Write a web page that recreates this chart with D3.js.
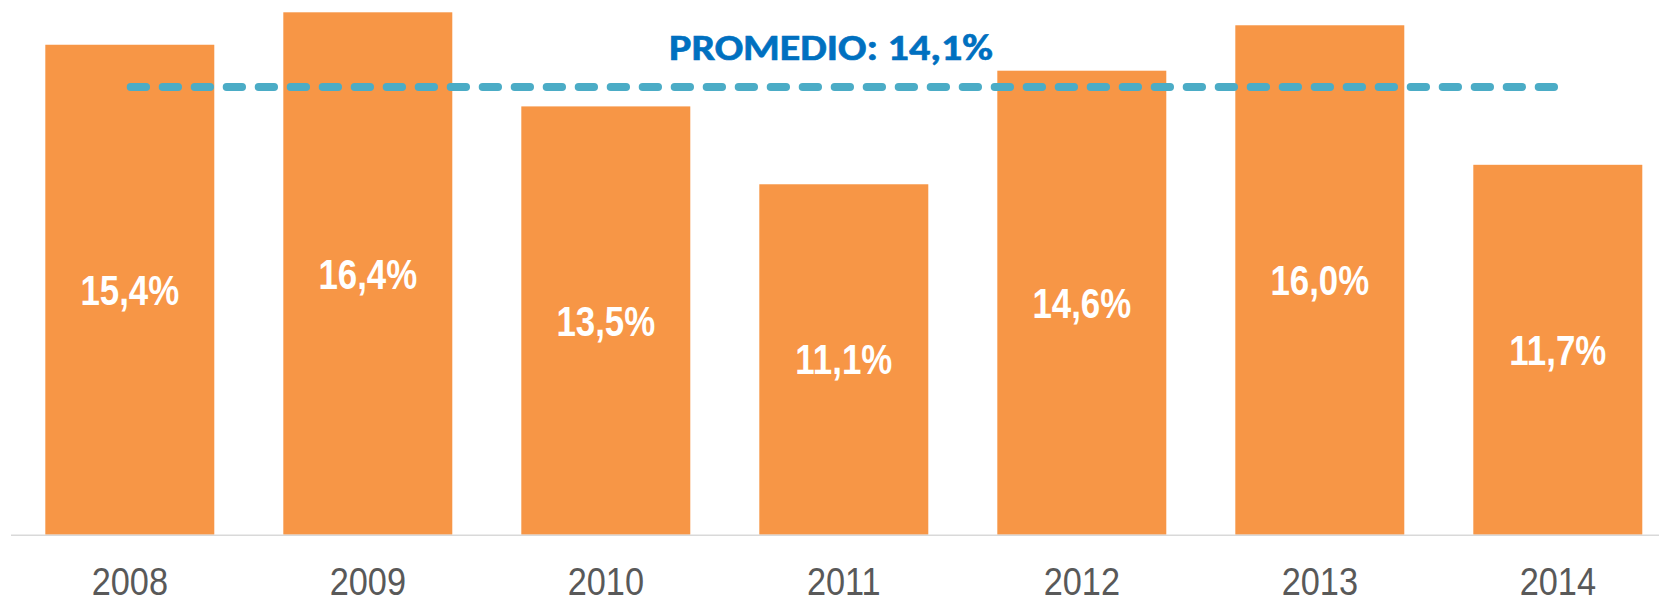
<!DOCTYPE html>
<html>
<head>
<meta charset="utf-8">
<script src="https://cdn.jsdelivr.net/npm/d3@7"></script>
<style>
    html, body { margin: 0; padding: 0; background: #fff; }
    svg { display: block; }
</style>
</head>
<body>
<svg id="chart" width="1659" height="603"></svg>
<script>
// Data
const years = ['2008', '2009', '2010', '2011', '2012', '2013', '2014'];
const values = [15.4, 16.4, 13.5, 11.1, 14.6, 16.0, 11.7];
const average = 14.1;

const W = 1659, H = 603;
const baseY = 534.7;
// no narrow font installed: squeeze Liberation Sans horizontally instead
const sans = '"Liberation Sans", Arial, sans-serif';

const svg = d3.select('#chart');

const x = d3.scaleBand()
    .domain(years)
    .range([10.8, 1676.8])
    .paddingInner(0.29)
    .paddingOuter(0.145);

// axis floor is slightly above zero in the original
const y = d3.scaleLinear()
    .domain([0.3, 16.4])
    .range([baseY, 12.3]);

const fmt = v => d3.format('.1f')(v).replace('.', ',') + '%';
const mid = yr => x(yr) + x.bandwidth() / 2;

// Bars
svg.append('g')
    .selectAll('rect')
    .data(values)
    .join('rect')
    .attr('x', (d, i) => x(years[i]))
    .attr('y', d => y(d))
    .attr('width', x.bandwidth())
    .attr('height', d => baseY - y(d))
    .attr('fill', '#F79646');

// Baseline
svg.append('line')
    .attr('x1', 11).attr('x2', W)
    .attr('y1', baseY + 0.5).attr('y2', baseY + 0.5)
    .attr('stroke', '#D9D9D9')
    .attr('stroke-width', 1.5);

// Value labels, centred in each bar
svg.append('g')
    .selectAll('text')
    .data(values)
    .join('text')
    .attr('transform', (d, i) =>
        `translate(${mid(years[i])},${(y(d) + baseY) / 2 + 15}) scale(0.83,1)`)
    .attr('text-anchor', 'middle')
    .attr('font-family', sans)
    .attr('font-weight', 'bold')
    .attr('font-size', 42)
    .attr('fill', '#fff')
    .text(d => fmt(d));

// Year labels
svg.append('g')
    .selectAll('text')
    .data(years)
    .join('text')
    .attr('transform', d => `translate(${mid(d)},594.8) scale(0.88,1)`)
    .attr('text-anchor', 'middle')
    .attr('font-family', sans)
    .attr('font-size', 39)
    .attr('fill', '#595959')
    .text(d => d);

// Average line
svg.append('line')
    .attr('x1', x(years[0]) + 85.4)
    .attr('x2', x(years[6]) + 84)
    .attr('y1', y(average))
    .attr('y2', y(average))
    .attr('stroke', '#4BACC6')
    .attr('stroke-width', 8)
    .attr('stroke-linecap', 'round')
    .attr('stroke-dasharray', '15.3 16.7');

svg.append('text')
    .attr('x', 831)
    .attr('y', 60)
    .attr('text-anchor', 'middle')
    .attr('font-family', 'Carlito, Lato, "Open Sans", sans-serif')
    .attr('font-weight', 'bold')
    .attr('font-size', 36)
    .attr('fill', '#0070C0')
    .attr('stroke', '#0070C0')
    .attr('stroke-width', 0.6)
    .attr('textLength', 324)
    .attr('lengthAdjust', 'spacingAndGlyphs')
    .text('PROMEDIO: ' + fmt(average));
</script>
</body>
</html>
